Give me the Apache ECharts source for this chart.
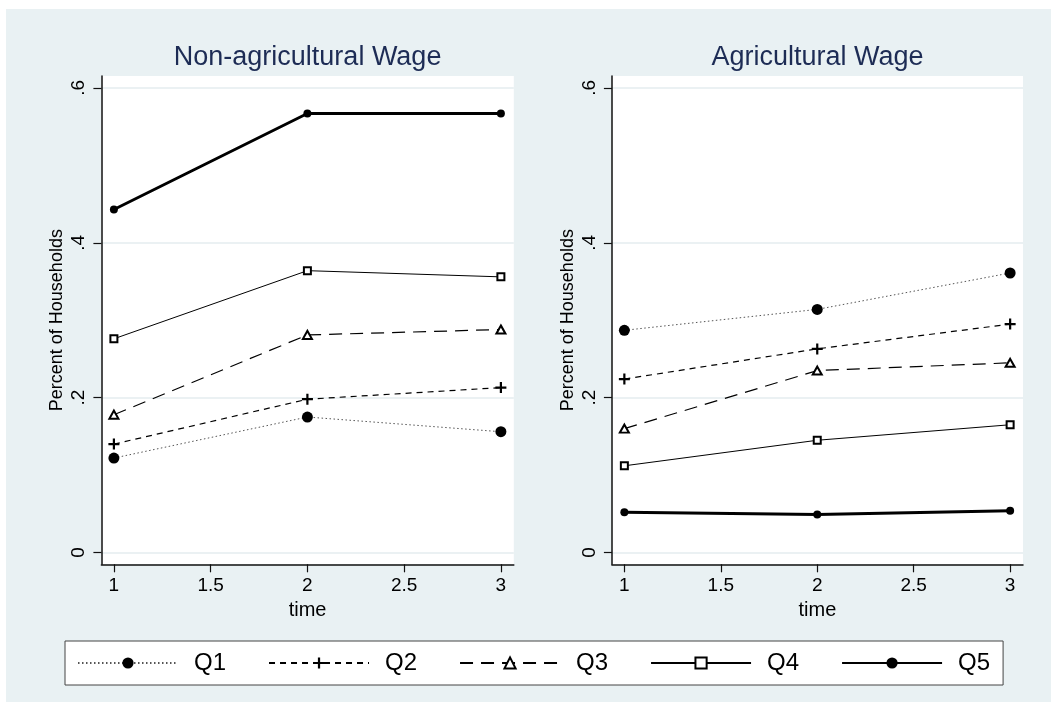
<!DOCTYPE html>
<html><head><meta charset="utf-8">
<script src="https://cdn.jsdelivr.net/npm/echarts@6/dist/echarts.min.js"></script>
<style>html,body{margin:0;padding:0;background:#fff}#c{width:1051px;height:702px}</style>
</head><body><div id="c"></div>
<script>
// ---- data ----
const times = [1, 2, 3];
const xTicks = [1, 1.5, 2, 2.5, 3];
const yTicks = [0, 0.2, 0.4, 0.6];
const yTickLabels = ['0', '.2', '.4', '.6'];
const quintiles = ['Q1', 'Q2', 'Q3', 'Q4', 'Q5'];
const panelTitles = ['Non-agricultural Wage', 'Agricultural Wage'];
const xAxisTitle = 'time';
const yAxisTitle = 'Percent of Households';

const nonAgQ1 = [0.122, 0.175, 0.156];
const nonAgQ2 = [0.140, 0.198, 0.213];
const nonAgQ3 = [0.178, 0.281, 0.288];
const nonAgQ4 = [0.276, 0.364, 0.356];
const nonAgQ5 = [0.443, 0.567, 0.567];

const agQ1 = [0.287, 0.314, 0.361];
const agQ2 = [0.224, 0.263, 0.295];
const agQ3 = [0.160, 0.235, 0.245];
const agQ4 = [0.112, 0.145, 0.165];
const agQ5 = [0.052, 0.049, 0.054];

const panels = [
  [nonAgQ1, nonAgQ2, nonAgQ3, nonAgQ4, nonAgQ5],
  [agQ1, agQ2, agQ3, agQ4, agQ5]
];

// ---- styles ----
const FONT = '"Liberation Sans", Arial, Helvetica, sans-serif';
const PLUS = 'path://M4,0h2v10h-2zM0,4h10v2h-10z';
const styles = [
  { symbol: 'circle', size: 11, color: '#000', line: { color: '#555', width: 1, type: [1.5, 2.5] } },
  { symbol: PLUS, size: 11, color: '#000', line: { color: '#000', width: 1.2, type: [6, 5] } },
  { symbol: 'emptyTriangle', size: [9, 8], color: '#000', line: { color: '#000', width: 1.2, type: [13, 8] } },
  { symbol: 'emptyRect', size: 7, color: '#000', line: { color: '#000', width: 1, type: 'solid' } },
  { symbol: 'circle', size: 8, color: '#000', line: { color: '#000', width: 3, type: 'solid' } }
];

const grids = [
  { left: 101.4, top: 76, width: 412.4, height: 488.3 },
  { left: 611.9, top: 76, width: 411.1, height: 488.3 }
];
const titleCenters = [307.6, 817.5];
const AXIS_COLOR = '#111';

const option = {
  animation: false,
  backgroundColor: '#e9f1f3',
  graphic: [
    { type: 'rect', left: 0, top: 0, shape: { width: 1051, height: 9 }, style: { fill: '#fff' }, silent: true },
    { type: 'rect', left: 0, top: 0, shape: { width: 6, height: 702 }, style: { fill: '#fff' }, silent: true }
  ],
  title: panelTitles.map((t, i) => ({
    text: t, left: titleCenters[i], top: 58, padding: 0,
    textAlign: 'center', textVerticalAlign: 'middle',
    textStyle: { fontSize: 27, fontWeight: 'normal', color: '#1d2c55', fontFamily: FONT }
  })),
  grid: grids.map(g => Object.assign({ show: true, backgroundColor: '#fff', borderWidth: 0, containLabel: false }, g)),
  xAxis: grids.map((g, i) => ({
    type: 'value', gridIndex: i, min: 0.9354, max: 3.0667,
    name: xAxisTitle, nameLocation: 'middle', nameGap: 29,
    nameTextStyle: { fontSize: 20, color: '#000', fontFamily: FONT },
    axisLine: { show: true, onZero: false, lineStyle: { color: AXIS_COLOR, width: 1.5 } },
    axisTick: { show: true, length: 8, customValues: xTicks, lineStyle: { color: AXIS_COLOR, width: 1.2 } },
    axisLabel: { customValues: xTicks, margin: 12, fontSize: 19, color: '#000', fontFamily: FONT },
    splitLine: { show: false }
  })),
  yAxis: grids.map((g, i) => ({
    type: 'value', gridIndex: i, min: -0.0152, max: 0.6154,
    name: yAxisTitle, nameLocation: 'middle', nameGap: 35, nameRotate: 90,
    nameTextStyle: { fontSize: 18, color: '#000', fontFamily: FONT },
    axisLine: { show: true, onZero: false, lineStyle: { color: AXIS_COLOR, width: 1.5 } },
    axisTick: { show: true, length: 8, customValues: yTicks, lineStyle: { color: AXIS_COLOR, width: 1.2 } },
    axisLabel: {
      customValues: yTicks, rotate: 90, margin: 13, fontSize: 19, color: '#000', fontFamily: FONT,
      formatter: v => { const k = yTicks.findIndex(t => Math.abs(t - v) < 1e-9); return k >= 0 ? yTickLabels[k] : ''; }
    },
    splitLine: { show: true, lineStyle: { color: '#e4ecef', width: 1.6 } }
  })),
  legend: {
    data: quintiles, left: 65, top: 641, orient: 'horizontal',
    itemWidth: 100, itemHeight: 14, itemGap: 42,
    padding: [10, 13, 10, 12], backgroundColor: '#fff', borderColor: '#444', borderWidth: 1, borderRadius: 0,
    selectedMode: false,
    textStyle: { fontSize: 24, color: '#000', fontFamily: FONT, padding: [0, 0, 0, 11], lineHeight: 24 }
  },
  series: []
};

panels.forEach((arrs, p) => {
  arrs.forEach((vals, q) => {
    const s = styles[q];
    option.series.push({
      type: 'line', name: quintiles[q], xAxisIndex: p, yAxisIndex: p,
      data: times.map((t, k) => [t, vals[k]]),
      symbol: s.symbol, symbolSize: s.size, showAllSymbol: true,
      itemStyle: { color: s.color },
      lineStyle: { color: s.line.color, width: s.line.width, type: s.line.type },
      emphasis: { disabled: true }, silent: true,
      z: 3 + q
    });
  });
});

const chart = echarts.init(document.getElementById('c'), null, { renderer: 'canvas' });
chart.setOption(option);
</script>
</body></html>
